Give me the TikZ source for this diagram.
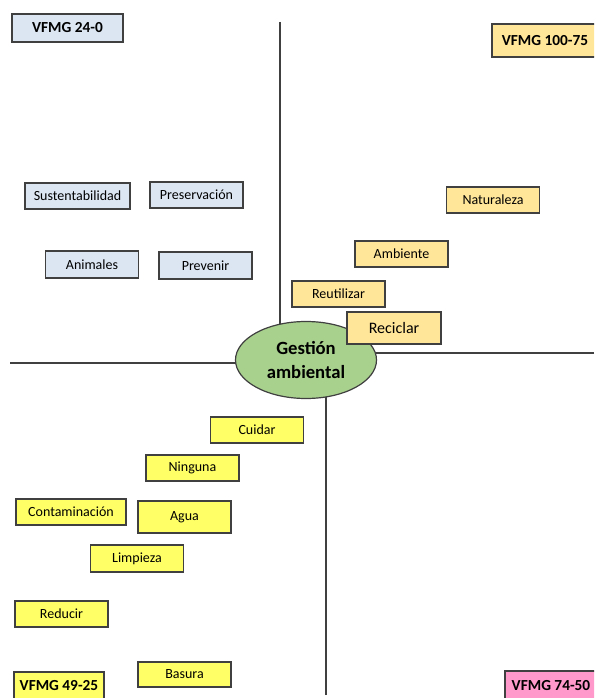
\documentclass[tikz,border=0pt]{standalone}
\usepackage{fontspec}
\setmainfont{Carlito}
\usepackage{tikz}
\usetikzlibrary{shapes.geometric}
\usetikzlibrary{backgrounds}
\tikzset{every picture/.style={line width=0.75pt}}
\definecolor{quadblue}{RGB}{220,230,242}
\definecolor{quadorange}{RGB}{255,230,153}
\definecolor{quadyellow}{RGB}{255,255,102}
\definecolor{quadpink}{RGB}{255,153,204}
\definecolor{centergreen}{RGB}{169,209,142}
\definecolor{edgegray}{RGB}{64,64,64}
\tikzset{
  word/.style={draw=edgegray, line width=0.9pt, inner sep=0pt, minimum width=69.75pt, minimum height=19.5pt, font=\fontsize{10.5}{12}\selectfont},
  wordblue/.style={word, fill=quadblue},
  wordorange/.style={word, fill=quadorange},
  wordyellow/.style={word, fill=quadyellow},
  quadtag/.style={draw=edgegray, line width=0.9pt, inner sep=0pt, minimum height=21pt, font=\fontsize{11.5}{13}\selectfont\bfseries},
  axis/.style={draw=edgegray, line width=0.8pt}
}

\begin{document}
\begin{tikzpicture}[x=0.75pt,y=0.75pt,yscale=-1,xscale=1]
\useasboundingbox (0,0) rectangle (594,698);
\clip (0,0) rectangle (594,698);

%Ellipse
\node [ellipse, draw=edgegray, line width=0.9pt, fill=centergreen, minimum width=105.75pt, minimum height=57.75pt, inner sep=0pt, align=center, font=\fontsize{14}{18}\selectfont\bfseries] (gest) at (306,360) {Gestión\\ambiental};

%Axis ends
\coordinate (axtop) at (280,22);
\coordinate (axleft) at (10,363);
\coordinate (axright) at (594,353);
\coordinate (axbottom) at (326,695);

\begin{scope}[on background layer]
%Straight Lines
\draw [axis] (axtop) -- (axtop |- gest.center);
\draw [axis] (axleft) -- (axleft -| gest.center);
\draw [axis] (axright) -- (axright -| gest.center);
\draw [axis] (axbottom) -- (axbottom |- gest.center);
\end{scope}

% Quadrant tags
\node [quadtag, fill=quadblue, minimum width=83.25pt] (vfmgA) at (67.5,28) {VFMG 24-0};
\node [quadtag, fill=quadorange, minimum width=79.5pt, minimum height=24.75pt] (vfmgB) at (545,40.5) {VFMG 100-75};
\node [quadtag, fill=quadyellow, minimum width=67.5pt] (vfmgC) at (59,686) {VFMG 49-25};
\node [quadtag, fill=quadpink, minimum width=69pt, minimum height=21.75pt] (vfmgD) at (551,685.5) {VFMG 74-50};

% Upper left
\node [wordblue, minimum width=78.75pt] (sust) at (77.5,196) {Sustentabilidad};
\node [wordblue] (pres) at (196.5,195) {Preservación};
\node [wordblue, minimum height=20.25pt] (anim) at (92,264.5) {Animales};
\node [wordblue, minimum height=20.25pt] (prev) at (205.5,265.5) {Prevenir};

% Upper right
\node [wordorange] (natu) at (493,200) {Naturaleza};
\node [wordorange] (ambi) at (401.5,254) {Ambiente};
\node [wordorange] (reut) at (338.5,294) {Reutilizar};
\node [wordorange, minimum width=70.5pt, minimum height=24pt, font=\fontsize{12}{14}\selectfont] (reci) at (394,328) {Reciclar};

% Lower left
\node [wordyellow] (cuid) at (257,430) {Cuidar};
\node [wordyellow] (ning) at (192.5,468) {Ninguna};
\node [wordyellow, minimum width=82.5pt] (cont) at (71,512) {Contaminación};
\node [wordyellow, minimum height=24pt] (agua) at (184.5,517) {Agua};
\node [wordyellow, minimum height=20.25pt] (limp) at (137,558.5) {Limpieza};
\node [wordyellow] (redu) at (61.5,614) {Reducir};
\node [wordyellow, minimum height=18.75pt] (basu) at (184.5,674.5) {Basura};

\end{tikzpicture}
\end{document}
